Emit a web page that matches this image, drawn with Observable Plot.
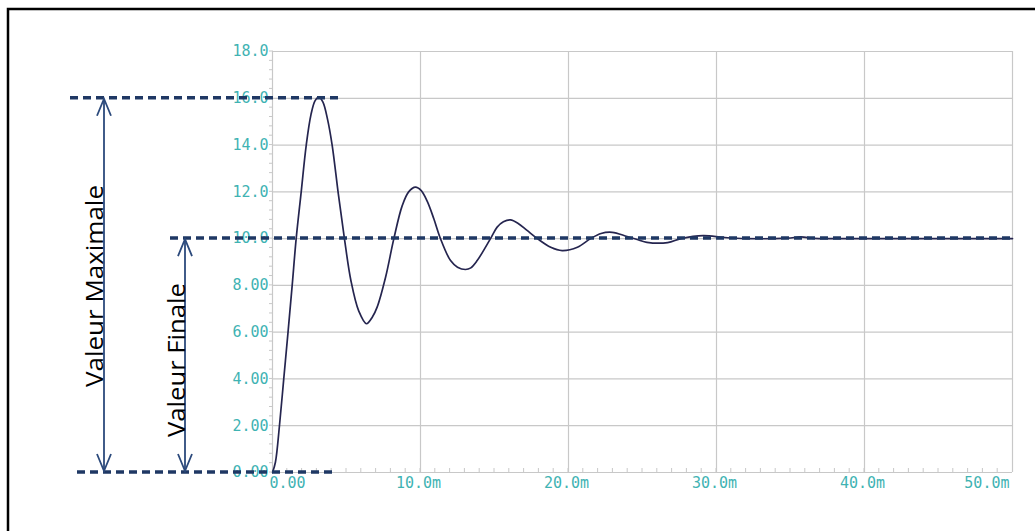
<!DOCTYPE html>
<html>
<head>
<meta charset="utf-8">
<script src="https://cdn.jsdelivr.net/npm/d3@7"></script>
<script src="https://cdn.jsdelivr.net/npm/@observablehq/plot@0.6"></script>
<style>
  html, body { margin: 0; padding: 0; background: #fff; }
  svg { display: block; }
</style>
</head>
<body>
<div id="chart"></div>
<script>
// ---- data (time in ms, response value) ----
const timeMs = [0, 0.2, 0.47, 0.76, 1.05, 1.33, 1.6, 1.94, 2.28, 2.6, 2.88, 3.13, 3.4, 3.72, 4.03, 4.45, 4.86, 5.3, 5.83, 6.35, 6.75, 7.07, 7.64, 8.2, 8.76, 9.2, 9.66, 10.05, 10.45, 10.9, 11.35, 12.03, 12.5, 13.04, 13.4, 13.83, 14.73, 15.18, 15.6, 16.08, 16.6, 17.2, 17.9, 18.8, 19.57, 20.6, 21.5, 22.2, 22.95, 23.96, 24.7, 25.3, 26.7, 27.6, 29.1, 30.5, 32, 34.8, 35.7, 36.6, 38, 50];
const response = [0, 0.45, 2.0, 4.0, 6.0, 8.0, 10.0, 12.0, 14.0, 15.3, 15.9, 16.05, 15.85, 15.1, 14.0, 11.9, 10.0, 8.2, 6.9, 6.36, 6.65, 7.07, 8.35, 10.0, 11.4, 12.0, 12.2, 12.05, 11.6, 10.85, 10.0, 9.06, 8.78, 8.68, 8.75, 9.06, 10.0, 10.49, 10.72, 10.8, 10.65, 10.35, 10.0, 9.63, 9.49, 9.63, 10.0, 10.22, 10.27, 10.09, 9.95, 9.84, 9.83, 10.0, 10.13, 10.05, 10.0, 10.02, 10.07, 10.01, 10.0, 10.0];

const yTicks = [0, 2, 4, 6, 8, 10, 12, 14, 16, 18];
const yTickLabels = ["0.00", "2.00", "4.00", "6.00", "8.00", "10.0", "12.0", "14.0", "16.0", "18.0"];
const xTicks = [0, 10, 20, 30, 40, 50];
const xTickLabels = ["0.00", "10.0m", "20.0m", "30.0m", "40.0m", "50.0m"];

const maxValue = 16;
const finalValue = 10;
const labelMax = "Valeur Maximale";
const labelFinal = "Valeur Finale";

// ---- styling ----
const teal = "#3fb3b3";
const gridColor = "#c8c8c8";
const curveColor = "#25254f";
const navy = "#1f3864";
const arrowColor = "#2c4a7c";
const mono = "'DejaVu Sans Mono', monospace";

const data = timeMs.map((t, i) => ({t, v: response[i]}));
const xLab = xTickLabels.map((label, i) => ({x: xTicks[i], label, i}));
const last = xTicks.length - 1;

const plot = Plot.plot({
  width: 1035,
  height: 531,
  marginLeft: 272,
  marginRight: 23,
  marginTop: 51,
  marginBottom: 59,
  style: {background: "white", overflow: "visible"},
  x: {domain: [0, 50], axis: null},
  y: {domain: [0, 18]},
  marks: [
    Plot.gridX(xTicks, {stroke: gridColor, strokeOpacity: 1, strokeWidth: 1.2}),
    Plot.gridY(yTicks, {stroke: gridColor, strokeOpacity: 1, strokeWidth: 1.2}),
    Plot.axisY(yTicks, {
      tickSize: 0, tickPadding: 4, label: null,
      tickFormat: d => yTickLabels[yTicks.indexOf(d)],
      fill: teal, fontFamily: mono, fontSize: 15
    }),
    Plot.text(xLab.filter(d => d.i === 0), {x: "x", y: () => 0, text: "label", dy: 11, dx: -3, textAnchor: "start", fill: teal, fontFamily: mono, fontSize: 15}),
    Plot.text(xLab.filter(d => d.i > 0 && d.i < last), {x: "x", y: () => 0, text: "label", dy: 11, dx: -2, textAnchor: "middle", fill: teal, fontFamily: mono, fontSize: 15}),
    Plot.text(xLab.filter(d => d.i === last), {x: "x", y: () => 0, text: "label", dy: 11, dx: -3, textAnchor: "end", fill: teal, fontFamily: mono, fontSize: 15}),
    Plot.line(data, {x: "t", y: "v", stroke: curveColor, strokeWidth: 1.7, curve: "catmull-rom"})
  ]
});

document.getElementById("chart").appendChild(plot);

const svg = d3.select(plot);
const xs = plot.scale("x");
const ys = plot.scale("y");
const X = v => xs.apply(v);
const Y = v => ys.apply(v);

// minor ticks on axes
const minor = svg.append("g").attr("stroke", gridColor).attr("stroke-width", 1);
d3.range(0, 18.001, 0.4).forEach(v => {
  minor.append("line").attr("x1", X(0) - 3).attr("x2", X(0) + 1).attr("y1", Y(v)).attr("y2", Y(v));
});
d3.range(1, 50, 1).forEach(t => {
  minor.append("line").attr("x1", X(t)).attr("x2", X(t)).attr("y1", Y(0)).attr("y2", Y(0) - 4);
});

// outer frame
svg.append("rect")
  .attr("x", 8).attr("y", 9).attr("width", 1060).attr("height", 560)
  .attr("fill", "none").attr("stroke", "#000").attr("stroke-width", 2.5);

// dashed reference lines
const dash = svg.append("g").attr("stroke", navy).attr("stroke-width", 3.5).attr("stroke-dasharray", "8 5");
dash.append("line").attr("x1", 70).attr("x2", 338).attr("y1", Y(maxValue)).attr("y2", Y(maxValue));
dash.append("line").attr("x1", 170).attr("x2", X(50)).attr("y1", Y(finalValue)).attr("y2", Y(finalValue));
dash.append("line").attr("x1", 77).attr("x2", 336).attr("y1", Y(0)).attr("y2", Y(0));

// double arrows
function arrow(x, v1, v2) {
  const g = svg.append("g").attr("stroke", arrowColor).attr("stroke-width", 1.8).attr("fill", "none");
  const y1 = Y(v1) + 1, y2 = Y(v2) - 1;
  g.append("line").attr("x1", x).attr("x2", x).attr("y1", y1).attr("y2", y2);
  g.append("path").attr("d", `M${x - 7},${y1 + 17}L${x},${y1}L${x + 7},${y1 + 17}`);
  g.append("path").attr("d", `M${x - 7},${y2 - 17}L${x},${y2}L${x + 7},${y2 - 17}`);
}
arrow(104, maxValue, 0);
arrow(185, finalValue, 0);

function vlabel(text, x, cy, len) {
  svg.append("text")
    .attr("transform", `translate(${x},${cy}) rotate(-90)`)
    .attr("text-anchor", "middle")
    .attr("font-family", "'Open Sans', 'Liberation Sans', sans-serif")
    .attr("font-size", 24)
    .attr("fill", "#000")
    .attr("textLength", len)
    .attr("lengthAdjust", "spacingAndGlyphs")
    .text(text);
}
vlabel(labelMax, 103, 286, 202);
vlabel(labelFinal, 185, 360, 154);
</script>
</body>
</html>
